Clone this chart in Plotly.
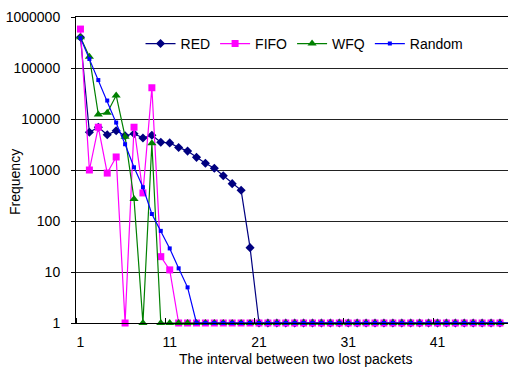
import plotly.graph_objects as go

intervals = list(range(1, 51))

red = [400000, 5500, 6900, 4900, 5900, 4700, 5150, 4250, 4800, 3500,
       3400, 2770, 2350, 1770, 1360, 1080, 770, 540, 400, 30] + [1] * 30
fifo = [580000, 1000, 6900, 870, 1800, 1, 6900, 355, 41000, 20,
        11] + [1] * 39
wfq = [400000, 166000, 12300, 13300, 29000, 4500, 270, 1, 3350, 1] + [1] * 40
rnd = [390000, 150000, 58000, 23000, 8500, 3200, 1130, 460, 137, 64,
       29, 11.8, 5.0] + [1] * 37

x_tick_vals = [1, 11, 21, 31, 41]
y_tick_vals = [1, 10, 100, 1000, 10000, 100000, 1000000]
y_tick_text = ["1", "10", "100", "1000", "10000", "100000", "1000000"]

x_title = "The interval between two lost packets"
y_title = "Frequency"

FONT = "Liberation Sans, Arial, sans-serif"

fig = go.Figure()
fig.add_trace(go.Scatter(x=intervals, y=red, name="RED", mode="lines+markers",
                         line=dict(color="#000080", width=1.2),
                         marker=dict(symbol="diamond", size=7, color="#000080"),
                         cliponaxis=False))
fig.add_trace(go.Scatter(x=intervals, y=fifo, name="FIFO", mode="lines+markers",
                         line=dict(color="#FF00FF", width=1.2),
                         marker=dict(symbol="square", size=7, color="#FF00FF"),
                         cliponaxis=False))
fig.add_trace(go.Scatter(x=intervals, y=wfq, name="WFQ", mode="lines+markers",
                         line=dict(color="#008000", width=1.2),
                         marker=dict(symbol="triangle-up", size=8, color="#008000"),
                         cliponaxis=False))
fig.add_trace(go.Scatter(x=intervals, y=rnd, name="Random", mode="lines+markers",
                         line=dict(color="#0000FF", width=1.2),
                         marker=dict(symbol="square", size=4, color="#0000FF"),
                         cliponaxis=False))

fig.update_layout(
    width=508, height=367,
    margin=dict(l=76, r=0, t=17, b=44, pad=0),
    paper_bgcolor="white", plot_bgcolor="white",
    font=dict(family=FONT, size=14, color="black"),
    showlegend=True,
    legend=dict(orientation="h", x=0.529, xanchor="center", y=0.912, yanchor="middle",
                bgcolor="rgba(255,255,255,0)", font=dict(size=14),
                itemwidth=30, tracegroupgap=0),
    xaxis=dict(range=[0.5, 48.9], tickmode="array", tickvals=x_tick_vals,
               ticks="", showgrid=False, zeroline=False,
               showline=True, linecolor="black", linewidth=1, mirror=True,
               minor=dict(tick0=0.5, dtick=10, ticks="inside", ticklen=5,
                          tickcolor="black", showgrid=False),
               tickfont=dict(size=14), ticklabelstandoff=6),
    yaxis=dict(type="log", range=[0, 6], tickmode="array", tickvals=y_tick_vals,
               ticktext=y_tick_text, ticks="outside", ticklen=4, tickcolor="black",
               showgrid=True, gridcolor="#222222", gridwidth=1,
               zeroline=False, showline=True, linecolor="black", linewidth=1,
               tickfont=dict(size=14), ticklabelstandoff=8),
    annotations=[
        dict(text=x_title, xref="paper", yref="paper",
             x=(295.5 - 76) / 432, y=(323 - 359) / 306,
             xanchor="center", yanchor="middle", showarrow=False,
             font=dict(size=14)),
        dict(text=y_title, xref="paper", yref="paper",
             x=(15 - 76) / 432, y=(323 - 182) / 306, textangle=-90,
             xanchor="center", yanchor="middle", showarrow=False,
             font=dict(size=14)),
    ],
)

fig.write_html("out.html")
